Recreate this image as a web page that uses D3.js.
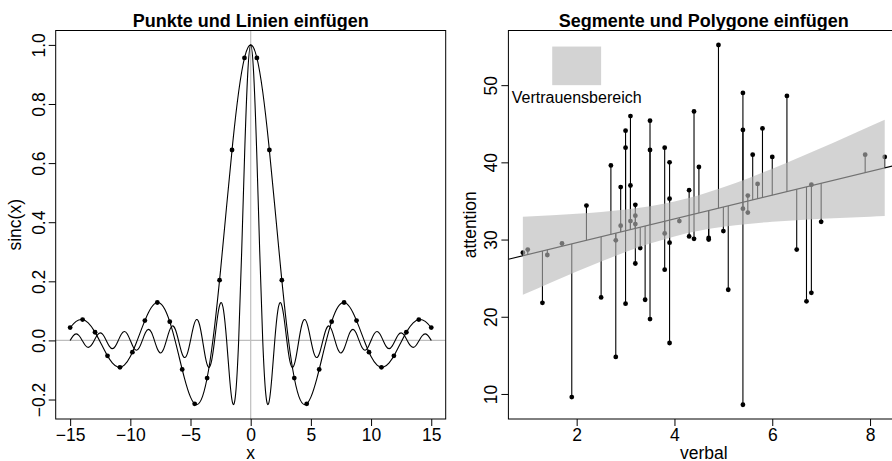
<!DOCTYPE html>
<html>
<head>
<meta charset="utf-8">
<script src="https://cdnjs.cloudflare.com/ajax/libs/d3/7.8.5/d3.min.js"></script>
<style>
body { margin: 0; background: #fff; }
svg { display: block; font-family: "Liberation Sans", Arial, Helvetica, sans-serif; }
</style>
</head>
<body>
<svg width="892" height="461"></svg>
<script>
// left panel: sin(x)/x (wide) and sin(pi x)/(pi x) (narrow)
var wideX = [-15,-14.5,-14,-13.5,-13,-12.5,-12,-11.5,-11,-10.5,-10,-9.5,-9,-8.5,-8,-7.5,-7,-6.5,-6,-5.5,-5,-4.5,-4,-3.5,-3,-2.5,-2,-1.5,-1,-0.5,
             0,0.5,1,1.5,2,2.5,3,3.5,4,4.5,5,5.5,6,6.5,7,7.5,8,8.5,9,9.5,10,10.5,11,11.5,12,12.5,13,13.5,14,14.5,15];
var wideY = [0.0434,0.0645,0.0708,0.0595,0.0323,-0.0053,-0.0447,-0.0761,-0.0909,-0.0838,-0.0544,-0.0079,0.0458,0.0939,0.1237,0.1251,0.0939,0.0331,-0.0466,-0.1283,-0.1918,-0.2172,-0.1892,-0.1002,0.0470,0.2394,0.4546,0.6650,0.8415,0.9589,
             1,0.9589,0.8415,0.6650,0.4546,0.2394,0.0470,-0.1002,-0.1892,-0.2172,-0.1918,-0.1283,-0.0466,0.0331,0.0939,0.1251,0.1237,0.0939,0.0458,-0.0079,-0.0544,-0.0838,-0.0909,-0.0761,-0.0447,-0.0053,0.0323,0.0595,0.0708,0.0645,0.0434];

var narrowX = [-15,-14.75,-14.5,-14.25,-14,-13.75,-13.5,-13.25,-13,-12.75,-12.5,-12.25,-12,-11.75,-11.5,-11.25,
               -11,-10.75,-10.5,-10.25,-10,-9.75,-9.5,-9.25,-9,-8.75,-8.5,-8.25,-8,-7.75,-7.5,-7.25,
               -7,-6.75,-6.5,-6.25,-6,-5.75,-5.5,-5.25,-5,-4.75,-4.5,-4.25,-4,-3.75,-3.5,-3.25,
               -3,-2.75,-2.5,-2.25,-2,-1.75,-1.5,-1.25,-1,-0.75,-0.5,-0.25,
               0,0.25,0.5,0.75,1,1.25,1.5,1.75,2,2.25,2.5,2.75,3,3.25,3.5,3.75,
               4,4.25,4.5,4.75,5,5.25,5.5,5.75,6,6.25,6.5,6.75,7,7.25,7.5,7.75,
               8,8.25,8.5,8.75,9,9.25,9.5,9.75,10,10.25,10.5,10.75,11,11.25,11.5,11.75,
               12,12.25,12.5,12.75,13,13.25,13.5,13.75,14,14.25,14.5,14.75,15];
var narrowY = [0,0.0153,0.0220,0.0158,0,-0.0164,-0.0236,-0.0170,0,0.0177,0.0255,0.0184,0,-0.0192,-0.0277,-0.0200,
               0,0.0209,0.0303,0.0220,0,-0.0231,-0.0335,-0.0243,0,0.0257,0.0374,0.0273,0,-0.0290,-0.0424,-0.0310,
               0,0.0333,0.0490,0.0360,0,-0.0391,-0.0579,-0.0429,0,0.0474,0.0707,0.0530,0,-0.0600,-0.0909,-0.0693,
               0,0.0818,0.1273,0.1000,0,-0.1286,-0.2122,-0.1801,0,0.3001,0.6366,0.9003,
               1,0.9003,0.6366,0.3001,0,-0.1801,-0.2122,-0.1286,0,0.1000,0.1273,0.0818,0,-0.0693,-0.0909,-0.0600,
               0,0.0530,0.0707,0.0474,0,-0.0429,-0.0579,-0.0391,0,0.0360,0.0490,0.0333,0,-0.0310,-0.0424,-0.0290,
               0,0.0273,0.0374,0.0257,0,-0.0243,-0.0335,-0.0231,0,0.0220,0.0303,0.0209,0,-0.0200,-0.0277,-0.0192,
               0,0.0184,0.0255,0.0177,0,-0.0170,-0.0236,-0.0164,0,0.0158,0.0220,0.0153,0];

var dotX = [-15,-13.966,-12.931,-11.897,-10.862,-9.828,-8.793,-7.759,-6.724,-5.690,-4.655,-3.621,-2.586,-1.552,-0.517,
            0.517,1.552,2.586,3.621,4.655,5.690,6.724,7.759,8.793,9.828,10.862,11.897,12.931,13.966,15];
var dotY = [0.0434,0.0706,0.0276,-0.0522,-0.0912,-0.0399,0.0672,0.1283,0.0635,-0.0983,-0.2144,-0.1273,0.2039,0.6443,0.9559,
            0.9559,0.6443,0.2039,-0.1273,-0.2144,-0.0983,0.0635,0.1283,0.0672,-0.0399,-0.0912,-0.0522,0.0276,0.0706,0.0434];

var leftXTicks = [-15,-10,-5,0,5,10,15];
var leftYTicks = [-0.2,0,0.2,0.4,0.6,0.8,1.0];

// right panel: attention vs verbal
var verbal = [0.9,1.0,1.3,1.4,1.7,1.9,2.2,2.5,2.7,2.8,2.8,2.9,2.9,3.0,3.0,3.0,3.1,3.1,3.1,3.2,3.2,3.2,3.2,3.3,3.4,
              3.5,3.5,3.5,3.8,3.8,3.8,3.9,3.9,3.9,3.9,4.1,4.3,4.3,4.4,4.4,4.5,4.7,4.7,4.9,5.0,5.1,5.4,5.4,5.4,5.4,
              5.5,5.5,5.6,5.7,5.8,6.0,6.3,6.5,6.7,6.8,6.8,7.0,7.9,8.3];
var attention = [28.3,28.7,21.8,28.0,29.5,9.6,34.4,22.5,39.6,29.9,14.8,36.8,31.8,44.1,41.9,21.7,46.0,37.0,32.4,34.5,33.1,32.0,26.9,28.9,22.2,
                 45.4,41.6,19.7,41.9,30.8,26.1,40.0,35.3,29.6,16.6,32.4,36.4,30.4,46.6,30.1,39.4,30.2,30.0,55.2,31.1,23.5,49.0,44.2,34.0,8.6,
                 35.7,33.5,41.0,37.2,44.4,40.7,48.6,28.7,22.0,37.1,23.1,32.3,41.0,40.7];

var fitIntercept = 26.52, fitSlope = 1.537;

var bandX = [0.9,1.5,2,2.5,3,3.5,4,4.5,5,5.5,6,6.5,7,7.5,8,8.3];
var bandLower = [22.85,24.51,25.86,27.16,28.38,29.48,30.41,31.13,31.65,32.03,32.30,32.51,32.69,32.84,32.97,33.04];
var bandUpper = [32.95,33.14,33.33,33.57,33.88,34.32,34.92,35.74,36.76,37.92,39.18,40.51,41.87,43.26,44.67,45.52];

var rightXTicks = [2,4,6,8];
var rightYTicks = [10,20,30,40,50];

var svg = d3.select("svg");
var fontSize = 17.5;
var bandFill = "rgb(184,184,184)", bandAlpha = 0.62;

svg.append("rect").attr("width", 892).attr("height", 461).attr("fill", "#fff");

function fmtMinus(s) { return s.replace("-", "\u2212"); }

function drawFrame(g, x, y, xTicks, yTicks, yFmt, title, xlab, ylab, ylabOff) {
    var x0 = x.range()[0], x1 = x.range()[1], y0 = y.range()[0], y1 = y.range()[1];

    var xa = g.append("g")
              .attr("transform", "translate(0," + y0 + ")")
              .call(d3.axisBottom(x).tickValues(xTicks).tickSize(7).tickSizeOuter(0)
                      .tickFormat(function(d) { return fmtMinus(String(d)); }));
    xa.selectAll("text")
      .attr("y", 21.5).attr("dy", 0)
      .style("font-size", fontSize + "px").style("font-family", "inherit").attr("fill", "#000");

    var ya = g.append("g")
              .attr("transform", "translate(" + x0 + ",0)")
              .call(d3.axisLeft(y).tickValues(yTicks).tickSize(7).tickSizeOuter(0).tickFormat(yFmt));
    ya.selectAll("text")
      .attr("x", 0).attr("y", 0).attr("dy", 0)
      .attr("transform", "translate(-11,0) rotate(-90)")
      .style("text-anchor", "middle")
      .style("font-size", fontSize + "px").style("font-family", "inherit").attr("fill", "#000");

    g.selectAll(".domain").remove();
    g.selectAll(".tick line").attr("stroke", "#000");

    g.append("rect")
     .attr("x", x0).attr("y", y1)
     .attr("width", x1 - x0).attr("height", y0 - y1)
     .attr("fill", "none").attr("stroke", "#000").attr("stroke-width", 1);

    g.append("text")
     .attr("x", (x0 + x1) / 2).attr("y", 27)
     .attr("text-anchor", "middle")
     .style("font-weight", "bold").style("font-size", "18px")
     .text(title);

    g.append("text")
     .attr("x", (x0 + x1) / 2).attr("y", 458.5)
     .attr("text-anchor", "middle")
     .style("font-size", fontSize + "px")
     .text(xlab);

    g.append("text")
     .attr("transform", "translate(" + (x0 - ylabOff) + "," + ((y0 + y1) / 2) + ") rotate(-90)")
     .attr("text-anchor", "middle")
     .style("font-size", fontSize + "px")
     .text(ylab);
}

// ---------- left panel ----------
var xL = d3.scaleLinear().domain([-16.2, 16.2]).range([55.7, 445.7]);
var yL = d3.scaleLinear().domain([-0.2659, 1.0487]).range([419, 30.5]);

svg.append("clipPath").attr("id", "clipL")
   .append("rect").attr("x", 55.7).attr("y", 30.5).attr("width", 390).attr("height", 388.5);

var left = svg.append("g");
var plotL = left.append("g").attr("clip-path", "url(#clipL)");

plotL.append("line")
     .attr("x1", xL(0)).attr("x2", xL(0)).attr("y1", 30.5).attr("y2", 419)
     .attr("stroke", "#bebebe").attr("stroke-width", 1.2);
plotL.append("line")
     .attr("x1", 55.7).attr("x2", 445.7).attr("y1", yL(0)).attr("y2", yL(0))
     .attr("stroke", "#bebebe").attr("stroke-width", 1.2);

var lineL = d3.line()
              .x(function(d) { return xL(d[0]); })
              .y(function(d) { return yL(d[1]); })
              .curve(d3.curveNatural);

plotL.append("path")
     .attr("d", lineL(d3.zip(wideX, wideY)))
     .attr("fill", "none").attr("stroke", "#000").attr("stroke-width", 1.1);
plotL.append("path")
     .attr("d", lineL(d3.zip(narrowX, narrowY)))
     .attr("fill", "none").attr("stroke", "#000").attr("stroke-width", 1.1);

plotL.selectAll("circle.dot")
     .data(d3.zip(dotX, dotY))
     .enter().append("circle")
     .attr("class", "dot")
     .attr("cx", function(d) { return xL(d[0]); })
     .attr("cy", function(d) { return yL(d[1]); })
     .attr("r", 2.4)
     .attr("fill", "#000");

drawFrame(left, xL, yL, leftXTicks, leftYTicks,
          function(d) { return fmtMinus(d.toFixed(1)); },
          "Punkte und Linien einfügen", "x", "sinc(x)", 35);

// ---------- right panel ----------
var xR = d3.scaleLinear().domain([0.604, 8.596]).range([508.4, 899.2]);
var yR = d3.scaleLinear().domain([6.756, 57.08]).range([419, 30.5]);

svg.append("clipPath").attr("id", "clipR")
   .append("rect").attr("x", 508.4).attr("y", 30.5).attr("width", 390.8).attr("height", 388.5);

var right = svg.append("g");
var plotR = right.append("g").attr("clip-path", "url(#clipR)");

var pts = d3.zip(verbal, attention);

plotR.selectAll("line.resid")
     .data(pts)
     .enter().append("line")
     .attr("class", "resid")
     .attr("x1", function(d) { return xR(d[0]); })
     .attr("x2", function(d) { return xR(d[0]); })
     .attr("y1", function(d) { return yR(d[1]); })
     .attr("y2", function(d) { return yR(fitIntercept + fitSlope * d[0]); })
     .attr("stroke", "#000").attr("stroke-width", 1.1);

plotR.selectAll("circle.pt")
     .data(pts)
     .enter().append("circle")
     .attr("class", "pt")
     .attr("cx", function(d) { return xR(d[0]); })
     .attr("cy", function(d) { return yR(d[1]); })
     .attr("r", 2.4)
     .attr("fill", "#000");

var xd = xR.domain();
plotR.append("line")
     .attr("x1", xR(xd[0])).attr("y1", yR(fitIntercept + fitSlope * xd[0]))
     .attr("x2", xR(xd[1])).attr("y2", yR(fitIntercept + fitSlope * xd[1]))
     .attr("stroke", "#000").attr("stroke-width", 1.2);

var band = d3.area()
             .x(function(d) { return xR(d[0]); })
             .y0(function(d) { return yR(d[1]); })
             .y1(function(d) { return yR(d[2]); })
             .curve(d3.curveMonotoneX);

plotR.append("path")
     .attr("d", band(d3.zip(bandX, bandLower, bandUpper)))
     .attr("fill", bandFill).attr("fill-opacity", bandAlpha).attr("stroke", "none");

// legend
plotR.append("rect")
     .attr("x", xR(1.5)).attr("y", yR(55))
     .attr("width", xR(2.5) - xR(1.5)).attr("height", yR(50) - yR(55))
     .attr("fill", bandFill).attr("fill-opacity", bandAlpha);
plotR.append("text")
     .attr("x", xR(2)).attr("y", yR(48.4)).attr("dy", "0.35em")
     .attr("text-anchor", "middle")
     .style("font-size", "16px")
     .text("Vertrauensbereich");

drawFrame(right, xR, yR, rightXTicks, rightYTicks,
          function(d) { return String(d); },
          "Segmente und Polygone einfügen", "verbal", "attention", 32);
</script>
</body>
</html>
